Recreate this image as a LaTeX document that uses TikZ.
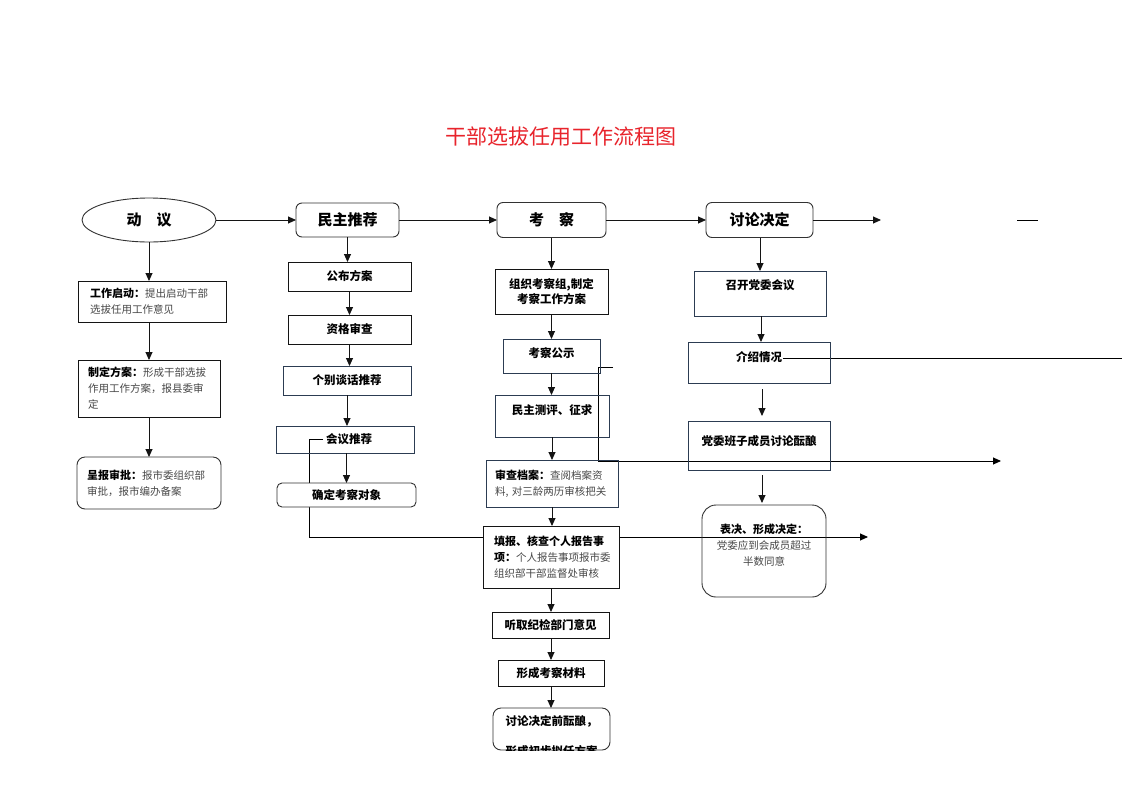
\documentclass[tikz,border=0pt]{standalone}
\usepackage{fontspec}
\setmainfont{Noto Sans CJK SC}
\usetikzlibrary{arrows.meta,shapes.geometric}
\pgfdeclarelayer{bg}
\pgfsetlayers{bg,main}
\definecolor{titlered}{RGB}{232,36,44}
\definecolor{slate}{RGB}{44,60,82}
\definecolor{ink}{RGB}{20,20,20}
\definecolor{edgegray}{RGB}{50,50,50}
\definecolor{bodygray}{RGB}{72,72,72}
\newcommand{\hdtxt}[1]{{\color{black}\fontsize{11}{16}\selectfont\bfseries #1}}
\begin{document}
\begin{tikzpicture}[x=1pt,y=-1pt,
  every node/.style={inner sep=0pt,outer sep=0pt},
  sz/.style 2 args={minimum width=#1,minimum height=#2},
  box/.style={draw=ink,line width=0.9pt,align=center,font=\fontsize{11.5}{15}\selectfont\bfseries},
  sbox/.style={box,draw=slate},
  rbox/.style={box,draw=edgegray,rounded corners=#1},
  rbox/.default=6pt,
  head/.style={font=\fontsize{15}{18}\selectfont\bfseries},
  para/.style={align=left,text width=#1,text=bodygray,font=\fontsize{10.5}{16}\selectfont},
  arr/.style={draw=ink,line width=0.9pt,-{Triangle[length=8pt,width=7pt]}},
  wire/.style={draw=black,line width=0.9pt},
]
\useasboundingbox (0,0) rectangle (1122,793);
\begin{pgfonlayer}{bg}
\fill[white] (0,0) rectangle (1122,793);
\end{pgfonlayer}

% title
\node[text=titlered,font=\fontsize{21}{24}\selectfont] (title) at (561,137) {干部选拔任用工作流程图};

% top row
\node[ellipse,draw=edgegray,line width=0.9pt,sz={134pt}{44pt},head] (yi) at (149,220) {动\hspace{1em}议};
\node[rbox,head,sz={103pt}{34pt}] (mztj) at (347.5,220) {民主推荐};
\node[rbox,head,sz={109pt}{35pt}] (kc) at (551.5,220) {考\hspace{1em}察};
\node[rbox,head,sz={107pt}{35pt}] (tljd) at (759.5,220) {讨论决定};
\coordinate (end1) at (881,220);
\coordinate (dashA) at (1017,220);
\coordinate (dashB) at (1038,220);

% column 1
\node[box,para=124pt,sz={148pt}{41pt}] (gzqd) at (152,301.5) {\hdtxt{工作启动：}提出启动干部\\选拔任用工作意见};
\node[box,para=122pt,sz={142pt}{57pt}] (zdfa) at (149,388.5) {\hdtxt{制定方案：}形成干部选拔\\作用工作方案，报县委审\\定};
\node[rbox=8pt,para=124pt,sz={144pt}{52pt}] (cbsp) at (149,483) {\hdtxt{呈报审批：}报市委组织部\\审批，报市编办备案};

% column 2
\node[box,sz={123pt}{29pt}] (gbfa) at (349.5,276.5) {公布方案};
\node[box,sz={123pt}{29pt}] (zgsc) at (349.5,329.5) {资格审查};
\node[sbox,sz={128pt}{29pt}] (gbth) at (347,380.5) {个别谈话推荐};
\node[sbox,sz={138pt}{27pt}] (hytj) at (345,439.5) {\hspace{8pt}会议推荐};
\node[rbox=5pt,fill=white,sz={139pt}{24pt}] (qdkc) at (346.5,495) {确定考察对象};

% column 3
\node[box,sz={113pt}{45pt}] (zzkc) at (551.5,291.5) {组织考察组,制定\\考察工作方案};
\node[sbox,sz={97pt}{34pt}] (kcgs) at (551.5,356) {考察公示\\[-9pt]\mbox{}};
\node[sbox,sz={114pt}{42pt}] (mzcp) at (552,416) {民主测评、征求\\[-3pt]\mbox{}};
\node[sbox,para=114pt,sz={132pt}{47pt}] (scda) at (552,483.5) {\hdtxt{审查档案：}查阅档案资\\料, 对三龄两历审核把关};
\node[box,para=114pt,fill=white,sz={136pt}{62pt}] (tbhc) at (551,557) {\hdtxt{填报、核查个人报告事}\\\hdtxt{项：}个人报告事项报市委\\组织部干部监督处审核};
\node[box,sz={117pt}{26pt}] (tqjj) at (550.5,625) {听取纪检部门意见};
\node[box,sz={106pt}{26pt}] (xckc) at (551,673) {形成考察材料};
\node[rbox=8pt,sz={117pt}{42pt}] (tljdq) at (551.5,729) {};
\begin{scope}
\clip (tljdq.north west) rectangle (tljdq.south east);
\node[align=center,font=\fontsize{11.5}{15}\selectfont\bfseries] (tljdqtext) at (551.5,736) {讨论决定前酝酿，\\[15pt]形成初步拟任方案};
\end{scope}

% column 4
\node[sbox,sz={132pt}{45pt}] (zkdw) at (760,293.5) {召开党委会议\\[2pt]\mbox{}};
\node[sbox,sz={142pt}{41pt}] (jsqk) at (759,362.5) {介绍情况\\[-2pt]\mbox{}};
\node[sbox,sz={142pt}{49pt}] (dwbz) at (759,445.5) {党委班子成员讨论酝酿\\[-4pt]\mbox{}};
\node[rbox=14pt,para=112pt,align=center,sz={124pt}{92pt}] (bjxc) at (764,551) {\hdtxt{表决、形成决定：}\\党委应到会成员超过\\半数同意\\[-4pt]\mbox{}};

% top row connectors
\draw[arr] (yi) -- (mztj);
\draw[arr] (mztj) -- (kc);
\draw[arr] (kc) -- (tljd);
\draw[arr] (tljd.east) -- (end1);
\draw[wire] (dashA) -- (dashB);

% column 1 connectors
\draw[arr] (yi.south) -- (yi.south |- gzqd.north);
\draw[arr] (zdfa.north |- gzqd.south) -- (zdfa.north);
\draw[arr] (zdfa.south) -- (cbsp.north);

% column 2 connectors
\draw[arr] (mztj.south) -- (mztj.south |- gbfa.north);
\draw[arr] (gbfa.south) -- (zgsc.north);
\draw[arr] (zgsc.south) -- (zgsc.south |- gbth.north);
\draw[arr] (gbth.south) -- (gbth.south |- hytj.north);
\draw[arr] (qdkc.north |- hytj.south) -- (qdkc.north);

% column 3 connectors
\draw[arr] (kc.south) -- (kc.south |- zzkc.north);
\draw[arr] (zzkc.south) -- (kcgs.north);
\draw[arr] (kcgs.south) -- (kcgs.south |- mzcp.north);
\draw[arr] (mzcp.south) -- (mzcp.south |- scda.north);
\draw[arr] (scda.south) -- (scda.south |- tbhc.north);
\draw[arr] (tbhc.south) -- (tbhc.south |- tqjj.north);
\draw[arr] (xckc.north |- tqjj.south) -- (xckc.north);
\draw[arr] (xckc.south) -- (xckc.south |- tljdq.north);

% column 4 connectors
\draw[arr] (zkdw.north |- tljd.south) -- (zkdw.north);
\draw[arr] ([xshift=1pt]zkdw.south) -- ([xshift=1pt]zkdw.south |- jsqk.north);
\draw[arr,shorten <=6pt,shorten >=5pt] ([xshift=3pt]jsqk.south) -- ([xshift=3pt]jsqk.south |- dwbz.north);
\draw[arr,shorten <=5pt,shorten >=2pt] ([xshift=3pt]dwbz.south) -- ([xshift=3pt]dwbz.south |- bjxc.north);

% stray lines
\coordinate (w1a) at (323,439);
\coordinate (w1b) at (309,439);
\coordinate (w1c) at (309,537);
\coordinate (w1d) at (868,537);
\coordinate (w2a) at (613,367);
\coordinate (w2b) at (598,367);
\coordinate (w2c) at (598,461);
\coordinate (w2d) at (1001,461);
\coordinate (w3a) at (783,358);
\coordinate (w3b) at (1122,358);
\begin{pgfonlayer}{bg}
\draw[wire,-{Triangle[length=8pt,width=7pt]}] (w1a) -- (w1b) -- (w1c) -- (w1d);
\draw[wire,-{Triangle[length=8pt,width=7pt]}] (w2a) -- (w2b) -- (w2c) -- (w2d);
\draw[wire] (w3a) -- (w3b);
\end{pgfonlayer}
\end{tikzpicture}
\end{document}
